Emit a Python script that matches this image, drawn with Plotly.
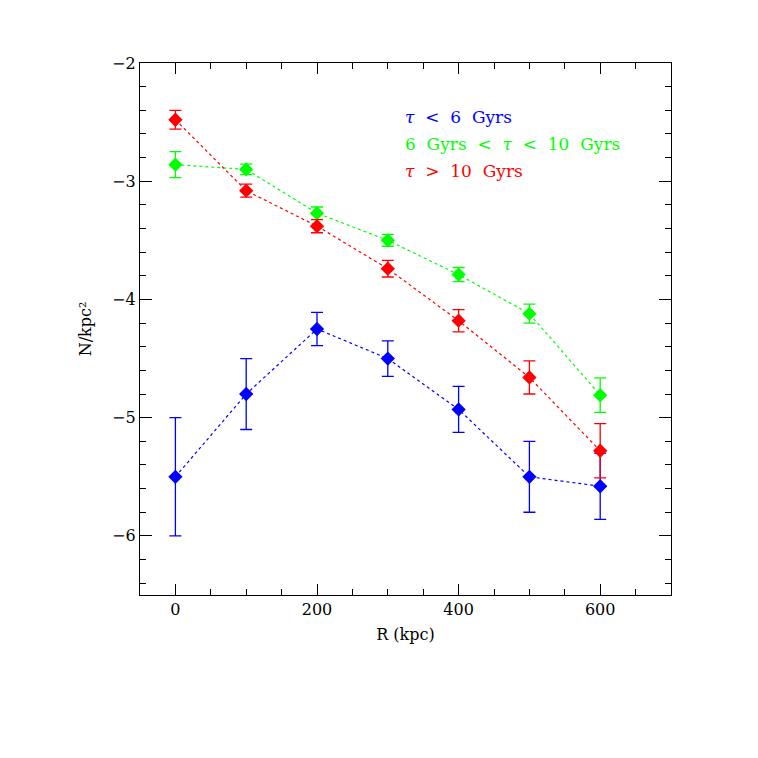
import plotly.graph_objects as go

R = [0, 100, 200, 300, 400, 500, 600]

young = [-5.50, -4.80, -4.25, -4.50, -4.93, -5.50, -5.58]
young_err = [0.50, 0.30, 0.14, 0.15, 0.195, 0.30, 0.28]

mid = [-2.86, -2.90, -3.27, -3.50, -3.79, -4.12, -4.81]
mid_err = [0.11, 0.045, 0.052, 0.05, 0.06, 0.08, 0.146]

old = [-2.48, -3.08, -3.38, -3.74, -4.18, -4.66, -5.28]
old_err = [0.08, 0.055, 0.056, 0.07, 0.094, 0.14, 0.23]

FONT = "DejaVu Serif"

series = [
    (young, young_err, "#0000ff", "<i>τ</i>  <  6  Gyrs"),
    (mid, mid_err, "#00ff00", "6  Gyrs  <  <i>τ</i>  <  10  Gyrs"),
    (old, old_err, "#ff0000", "<i>τ</i>  >  10  Gyrs"),
]

fig = go.Figure()
for vals, errs, col, name in series:
    fig.add_trace(go.Scatter(
        x=R, y=vals, mode="lines+markers", name=name,
        line=dict(color=col, width=1.2, dash="dot"),
        marker=dict(symbol="diamond", size=11, color=col),
        error_y=dict(type="data", array=errs, color=col, thickness=1.3, width=6),
    ))

for i, (_, _, col, name) in enumerate(series):
    fig.add_annotation(
        x=0.496, y=0.899 - i * 0.051, xref="paper", yref="paper",
        xanchor="left", yanchor="middle", showarrow=False,
        text=name, font=dict(family=FONT, size=17, color=col),
    )

axis_common = dict(
    showline=True, linecolor="black", linewidth=1.2, mirror="ticks",
    ticks="inside", tickcolor="black", tickwidth=1.2,
    showgrid=False, zeroline=False,
    tickfont=dict(family=FONT, size=16, color="black"),
)

fig.update_xaxes(
    range=[-50, 700], tick0=0, dtick=200, ticklen=11,
    minor=dict(ticks="inside", dtick=50, ticklen=6, tickcolor="black", tickwidth=1.2),
    title=dict(text="R (kpc)", font=dict(family=FONT, size=16, color="black"), standoff=10),
    **axis_common,
)
fig.update_yaxes(
    range=[-6.5, -2], tick0=-2, dtick=1, ticklen=12,
    minor=dict(ticks="inside", dtick=0.2, ticklen=6, tickcolor="black", tickwidth=1.2),
    title=dict(text="N/kpc²", font=dict(family=FONT, size=16, color="black"), standoff=16),
    **axis_common,
)

fig.update_layout(
    width=758, height=758,
    margin=dict(l=132, r=95, t=55, b=171),
    plot_bgcolor="white", paper_bgcolor="white",
    showlegend=False,
)

fig.write_html("out.html")
